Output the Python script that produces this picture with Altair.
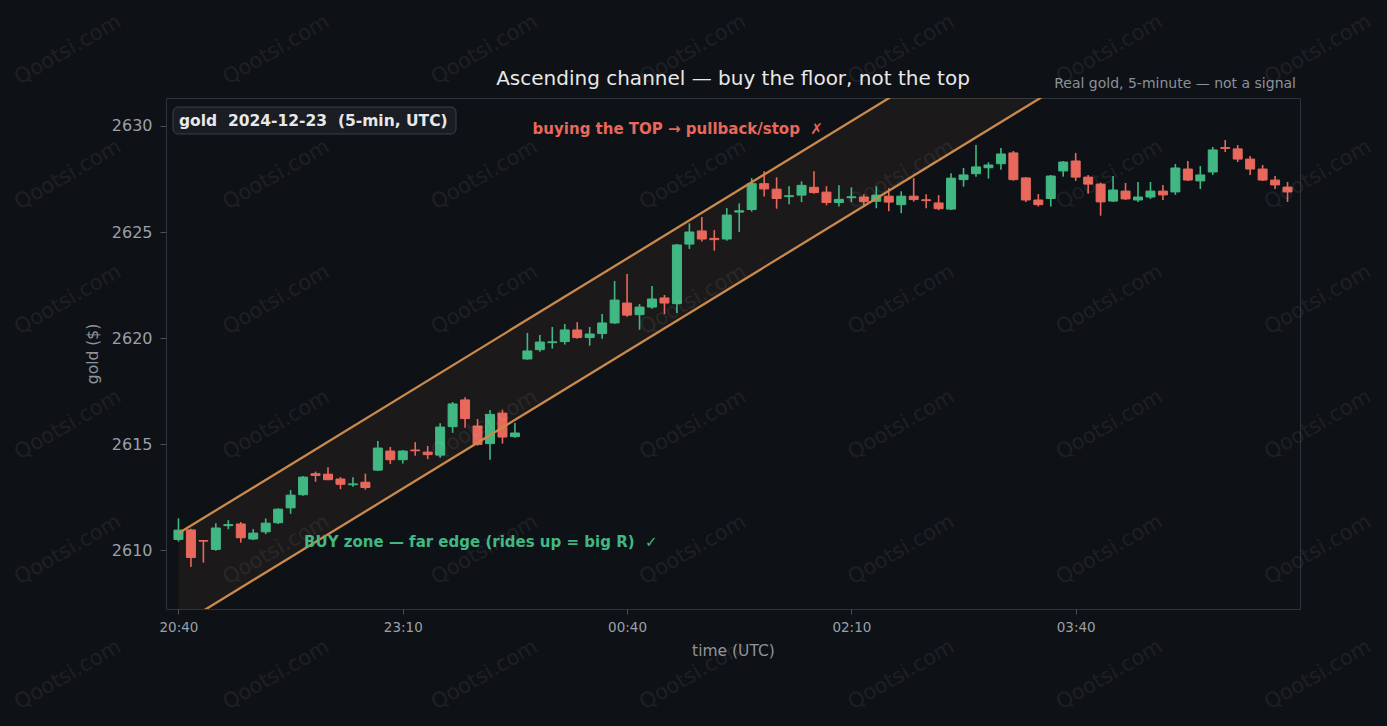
import json
import altair as alt
import pandas as pd

# ---------------- data ----------------
opens = [2610.50, 2610.95, 2610.45, 2610.03, 2611.15, 2611.23, 2610.52, 2610.86, 2611.29, 2611.99,
         2612.61, 2613.60, 2613.58, 2613.35, 2613.08, 2613.20, 2613.77, 2614.67, 2614.26, 2614.72,
         2614.62, 2614.48, 2615.82, 2617.08, 2615.85, 2615.02, 2616.46, 2615.35, 2619.01, 2619.45,
         2619.78, 2619.83, 2620.38, 2620.02, 2620.21, 2620.71, 2621.65, 2621.10, 2621.46, 2621.89,
         2621.62, 2624.43, 2625.05, 2624.70, 2624.67, 2625.94, 2626.06, 2627.28, 2627.02, 2626.67,
         2626.74, 2627.11, 2626.88, 2626.39, 2626.62, 2626.65, 2626.45, 2626.69, 2626.29, 2626.69,
         2626.52, 2626.37, 2626.08, 2627.47, 2627.75, 2628.03, 2628.22, 2628.73, 2627.55, 2626.51,
         2626.58, 2627.88, 2628.35, 2627.59, 2627.26, 2626.46, 2626.93, 2626.51, 2626.65, 2626.93,
         2626.89, 2627.97, 2627.41, 2627.83, 2628.98, 2628.92, 2628.44, 2627.97, 2627.45, 2627.12]
highs = [2611.50, 2611.00, 2610.47, 2611.26, 2611.41, 2611.32, 2610.99, 2611.49, 2611.96, 2612.83,
         2613.49, 2613.70, 2613.90, 2613.44, 2613.43, 2613.60, 2615.14, 2614.86, 2614.72, 2615.09,
         2614.91, 2615.98, 2616.98, 2617.21, 2616.18, 2616.60, 2616.60, 2615.99, 2620.24, 2620.14,
         2620.52, 2620.66, 2620.75, 2620.52, 2621.13, 2622.69, 2623.02, 2621.60, 2622.45, 2622.03,
         2624.43, 2625.41, 2625.71, 2625.09, 2626.13, 2626.35, 2627.54, 2627.86, 2627.58, 2627.16,
         2627.39, 2627.86, 2627.16, 2627.21, 2627.11, 2626.78, 2627.16, 2627.07, 2626.92, 2627.54,
         2626.78, 2626.74, 2627.77, 2628.02, 2629.10, 2628.29, 2628.96, 2628.82, 2627.59, 2626.79,
         2627.69, 2628.35, 2628.73, 2627.69, 2627.33, 2627.64, 2627.31, 2627.36, 2627.36, 2627.22,
         2628.21, 2628.35, 2628.11, 2629.01, 2629.34, 2629.10, 2628.58, 2628.16, 2627.64, 2627.36]
lows = [2610.40, 2609.20, 2609.41, 2609.97, 2610.98, 2610.35, 2610.47, 2610.75, 2611.23, 2611.71,
        2612.56, 2613.22, 2613.29, 2612.87, 2612.99, 2612.85, 2613.73, 2614.06, 2614.08, 2614.45,
        2614.29, 2614.35, 2615.53, 2615.77, 2614.92, 2614.26, 2615.02, 2615.30, 2618.98, 2619.35,
        2619.50, 2619.69, 2619.97, 2619.64, 2619.97, 2620.66, 2621.00, 2620.39, 2621.38, 2621.13,
        2621.18, 2624.20, 2624.55, 2624.12, 2624.59, 2625.00, 2625.96, 2626.67, 2626.10, 2626.31,
        2626.41, 2626.81, 2626.26, 2626.20, 2626.41, 2626.23, 2626.12, 2625.98, 2625.89, 2626.43,
        2626.12, 2626.03, 2626.04, 2627.14, 2627.61, 2627.52, 2627.94, 2627.42, 2626.42, 2626.20,
        2626.20, 2627.61, 2627.41, 2626.81, 2625.77, 2626.42, 2626.51, 2626.42, 2626.56, 2626.51,
        2626.75, 2627.41, 2627.03, 2627.69, 2628.77, 2628.30, 2627.69, 2627.41, 2627.03, 2626.42]
closes = [2610.94, 2609.65, 2610.42, 2611.04, 2611.20, 2610.58, 2610.80, 2611.27, 2611.93, 2612.59,
          2613.44, 2613.52, 2613.32, 2613.10, 2613.12, 2612.95, 2614.81, 2614.26, 2614.67, 2614.68,
          2614.50, 2615.80, 2616.89, 2616.20, 2614.98, 2616.40, 2615.33, 2615.52, 2619.39, 2619.81,
          2619.82, 2620.38, 2620.02, 2620.19, 2620.71, 2621.79, 2621.08, 2621.46, 2621.84, 2621.65,
          2624.39, 2625.00, 2624.67, 2624.64, 2625.80, 2626.00, 2627.28, 2627.03, 2626.58, 2626.71,
          2627.20, 2626.86, 2626.39, 2626.54, 2626.66, 2626.43, 2626.74, 2626.41, 2626.69, 2626.53,
          2626.48, 2626.10, 2627.54, 2627.69, 2628.07, 2628.16, 2628.68, 2627.47, 2626.51, 2626.29,
          2627.64, 2628.30, 2627.59, 2627.26, 2626.42, 2626.98, 2626.56, 2626.65, 2626.93, 2626.75,
          2628.02, 2627.45, 2627.69, 2628.87, 2628.94, 2628.44, 2627.97, 2627.45, 2627.22, 2626.89]

tick_positions = [0, 18, 36, 54, 72]
tick_labels = ["20:40", "23:10", "00:40", "02:10", "03:40"]
y_ticks = [2610, 2615, 2620, 2625, 2630]

channel_idx = [0, 90]
channel_upper = [2610.79, 2643.19]
channel_lower = [2606.42, 2638.82]

# ---------------- styling ----------------
BG = "#0e1116"
UP = "#41b883"
DOWN = "#e8685c"
CHAN = "#c98a4b"
FONT = "DejaVu Sans"
W, H = 1134, 511

df = pd.DataFrame({"i": range(len(opens)), "o": opens, "h": highs, "l": lows, "c": closes})
df["lo"] = df[["o", "c"]].min(axis=1)
df["hi"] = df[["o", "c"]].max(axis=1)
df["dir"] = ["up" if c >= o else "down" for o, c in zip(df["o"], df["c"])]

chan = pd.DataFrame({"i": channel_idx, "up": channel_upper, "lw": channel_lower})

xscale = alt.Scale(domain=[-1, 90], nice=False, zero=False, padding=0)
yscale = alt.Scale(domain=[2607.22, 2631.32], nice=False, zero=False, padding=0)
xaxis = alt.Axis(values=tick_positions,
                 labelExpr=json.dumps(tick_labels) + "[round(datum.value / 18)]",
                 title="time (UTC)")
yaxis = alt.Axis(values=y_ticks, format="d", title="gold ($)")


def X(f):
    return alt.X(f, type="quantitative", scale=xscale, axis=xaxis)


def Y(f):
    return alt.Y(f, type="quantitative", scale=yscale, axis=yaxis)


color = alt.Color("dir:N", scale=alt.Scale(domain=["up", "down"], range=[UP, DOWN]), legend=None)

fill = alt.Chart(chan).mark_area(color=CHAN, opacity=0.075, clip=True).encode(
    x=X("i"), y=Y("lw"), y2="up")
upper = alt.Chart(chan).mark_line(color=CHAN, strokeWidth=2.3, clip=True).encode(x=X("i"), y=Y("up"))
lower = alt.Chart(chan).mark_line(color=CHAN, strokeWidth=2.3, clip=True).encode(x=X("i"), y=Y("lw"))

wicks = alt.Chart(df).mark_rule(strokeWidth=1.6).encode(x=X("i"), y=Y("l"), y2="h", color=color)
bodies = alt.Chart(df).mark_bar(size=9, strokeWidth=1).encode(
    x=X("i"), y=Y("lo"), y2="hi", color=color, stroke=color)

one = alt.Data(values=[{}])
title = alt.Chart(one).mark_text(
    text="Ascending channel — buy the floor, not the top", font=FONT, fontSize=20,
    color="#e8e8e8", align="center", baseline="alphabetic").encode(
    x=alt.value(W / 2), y=alt.value(-13))
subtitle = alt.Chart(one).mark_text(
    text="Real gold, 5-minute — not a signal", font=FONT, fontSize=14,
    color="#8b919a", align="right", baseline="alphabetic").encode(
    x=alt.value(W - 4), y=alt.value(-10))

legend_box = alt.Chart(one).mark_rect(
    fill="#1a1d23", stroke="#3a3f47", strokeWidth=1, cornerRadius=5).encode(
    x=alt.value(7), x2=alt.value(290), y=alt.value(9), y2=alt.value(36))
legend_text = alt.Chart(one).mark_text(
    text="gold\u00a0 2024-12-23\u00a0 (5-min, UTC)", font=FONT, fontSize=15.5, fontWeight="bold",
    color="#e8e8e8", align="left", baseline="middle").encode(
    x=alt.value(13), y=alt.value(23))

ann = pd.DataFrame({
    "i": [28.42, 10.08],
    "p": [2629.84, 2610.39],
    "t": ["buying the TOP → pullback/stop\u00a0 ✗", "BUY zone — far edge (rides up = big R)\u00a0 ✓"],
    "col": [DOWN, UP],
})
ann_text = alt.Chart(ann).mark_text(
    font=FONT, fontSize=15, fontWeight="bold", align="left", baseline="middle").encode(
    x=X("i"), y=Y("p"), text="t:N", color=alt.Color("col:N", scale=None))

main = alt.layer(fill, wicks, bodies, upper, lower, legend_box, legend_text, ann_text, title, subtitle)

# watermark grid (decoration), positions relative to the plot origin
wm_rows = []
for j in range(6):
    for k in range(7):
        wm_rows.append({"px": 68 + 208.33 * k - 166, "py": 50 + 125 * j - 98, "t": "Qootsi.com"})
wm = alt.Chart(pd.DataFrame(wm_rows)).mark_text(
    font=FONT, fontSize=21, angle=330, color="#ffffff", opacity=0.06,
    align="center", baseline="middle").encode(
    x=alt.X("px:Q", scale=None, axis=None),
    y=alt.Y("py:Q", scale=None, axis=None),
    text="t:N")

chart = alt.layer(main, wm).resolve_scale(x="independent", y="independent").properties(
    width=W, height=H,
    padding={"left": 166, "top": 98, "right": 87, "bottom": 117},
    autosize=alt.AutoSizeParams(type="none"),
    background=BG,
).configure_view(stroke="#2f333a", strokeWidth=1).configure_axis(
    domain=False, grid=False, tickColor="#4b5058", tickSize=6,
    labelFont=FONT, titleFont=FONT, titleFontWeight="normal",
    labelColor="#9aa0a8", titleColor="#8e949c",
).configure_axisX(labelFontSize=13.5, titleFontSize=15.5, labelPadding=6, titlePadding=10, tickSize=5
).configure_axisY(labelFontSize=16, titleFontSize=15.5, labelPadding=8, titlePadding=11)

chart.save("out.html", embed_options={"renderer": "svg", "actions": False})
